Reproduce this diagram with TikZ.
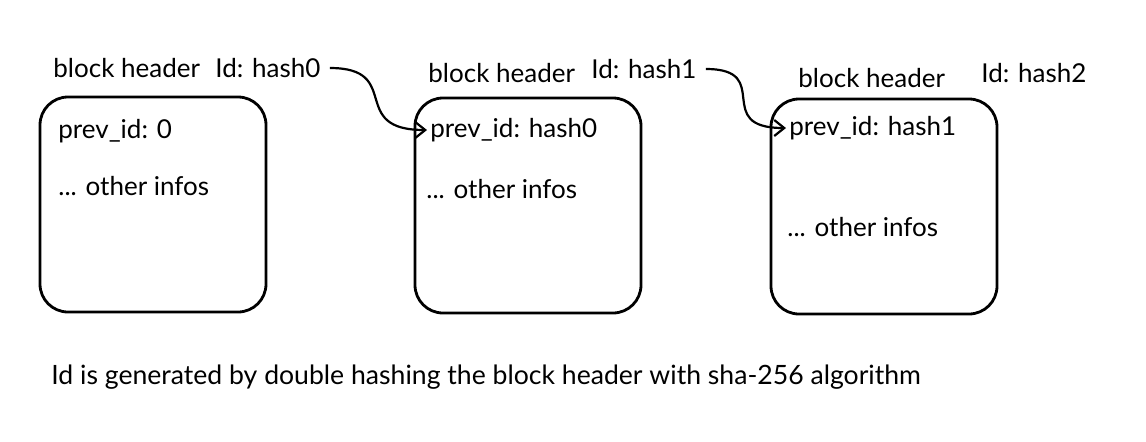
\documentclass[tikz,border=0pt]{standalone}
\usepackage{fontspec}
\setmainfont{Lato}
\usetikzlibrary{arrows.meta,positioning}

\tikzset{
  blockbox/.style={draw, line width=1.4pt, rounded corners=14pt, minimum width=113pt, minimum height=107.5pt},
  txt/.style={anchor=west, inner sep=1.5pt, font=\fontsize{13}{15}\selectfont},
  link/.style={line width=1.1pt, shorten <=3pt, -{Straight Barb[length=5pt,width=8pt]}}
}

\begin{document}
\begin{tikzpicture}[x=0.5pt, y=-0.5pt]
	\useasboundingbox (0,0) rectangle (1146,441);
	% blocks
	\node[blockbox] (b1) at (153,204.5) {};
	\node[blockbox] (b2) at (528,205.5) {};
	\node[blockbox] (b3) at (884,206.5) {};
	
	% headers and ids
	\node[txt] (hdr1) at (50,68) {block header};
	\node[txt] (id1) at (212,68) {Id: hash0};
	\node[txt] (hdr2) at (425,73) {block header};
	\node[txt] (id2) at (588,69) {Id: hash1};
	\node[txt] (hdr3) at (795,78) {block header};
	\node[txt] (id3) at (978,73) {Id: hash2};
	
	% block contents
	\node[txt] (prev1) at (55,131) {prev\_id: 0};
	\node[txt] (info1) at (55,186) {... other infos};
	\node[txt] (prev2) at (427,130) {prev\_id: hash0};
	\node[txt] (info2) at (423,189) {... other infos};
	\node[txt] (prev3) at (786,128) {prev\_id: hash1};
	\node[txt] (info3) at (784,227) {... other infos};
	
	\draw[link] (id1.east) .. controls +(80,0) and +(-80,0) .. (prev2.west);
	\draw[link] (id2.east) .. controls +(75,0) and +(-75,0) .. (prev3.west);
	
	\node[txt, font=\fontsize{13.3}{16}\selectfont] (note) at (48,377) {Id is generated by double hashing the block header with sha-256 algorithm};
\end{tikzpicture}
\end{document}
